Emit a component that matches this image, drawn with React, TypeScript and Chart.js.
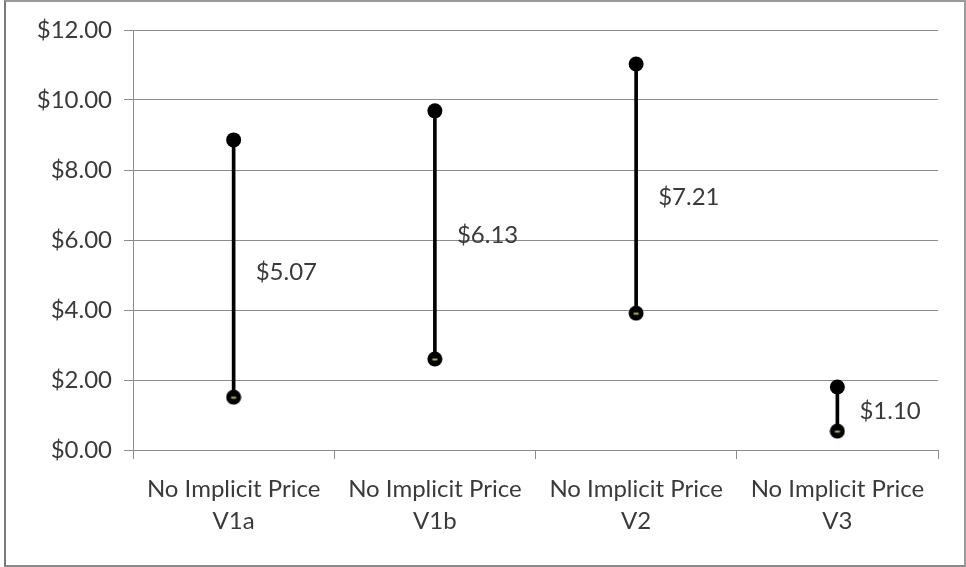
import React, { useEffect, useRef } from 'react';
import { Chart, registerables } from 'chart.js';

Chart.register(...registerables);

// Price ranges per variant: high, low and the labelled central value
const categories: string[][] = [
  ['No Implicit Price', 'V1a'],
  ['No Implicit Price', 'V1b'],
  ['No Implicit Price', 'V2'],
  ['No Implicit Price', 'V3'],
];
const highValues = [8.86, 9.69, 11.03, 1.8];
const lowValues = [1.51, 2.6, 3.91, 0.54];
const midValues = [5.07, 6.13, 7.21, 1.1];

const yMin = 0;
const yMax = 12;
const yStep = 2;

const FONT = 'Lato';
const FONT_SIZE = 24;
const TEXT = '#3a3a3a';
const GRID = '#8c8c8c';

const money = (v: number) => '$' + v.toFixed(2);

// Low-point marker: black dot with a small green dash in the middle
function makeLowMarker(): HTMLCanvasElement {
  const c = document.createElement('canvas');
  c.width = 16;
  c.height = 16;
  const ctx = c.getContext('2d')!;
  ctx.fillStyle = '#000';
  ctx.beginPath();
  ctx.arc(8, 8, 7.5, 0, Math.PI * 2);
  ctx.fill();
  ctx.fillStyle = '#9bbb59';
  ctx.fillRect(5.5, 7.5, 5, 2);
  return c;
}

const midLabels = {
  id: 'midLabels',
  afterDatasetsDraw(chart: any) {
    const { ctx, scales } = chart;
    ctx.save();
    ctx.font = `${FONT_SIZE}px ${FONT}`;
    ctx.fillStyle = TEXT;
    ctx.textAlign = 'left';
    ctx.textBaseline = 'middle';
    midValues.forEach((v, i) => {
      const x = scales.x.getPixelForValue(i) + 22;
      const y = scales.y.getPixelForValue(v);
      ctx.fillText(money(v), x, y);
    });
    ctx.restore();
  },
};

export default function App() {
  const ref = useRef<HTMLCanvasElement>(null);

  useEffect(() => {
    let chart: Chart | null = null;
    let cancelled = false;
    const build = () => {
      if (cancelled || !ref.current) return;
      chart = new Chart(ref.current, {
        type: 'bar',
        data: {
          labels: categories,
          datasets: [
            {
              type: 'bar',
              data: lowValues.map((lo, i) => [lo, highValues[i]]) as any,
              backgroundColor: '#000',
              barThickness: 3,
              order: 3,
            },
            {
              type: 'line',
              data: highValues,
              showLine: false,
              pointRadius: 7.5,
              pointBackgroundColor: '#000',
              pointBorderWidth: 0,
              order: 1,
            },
            {
              type: 'line',
              data: lowValues,
              showLine: false,
              pointStyle: makeLowMarker() as any,
              pointRadius: 8,
              order: 1,
            },
            {
              type: 'line',
              data: midValues,
              showLine: false,
              pointRadius: 0,
              order: 2,
            },
          ] as any,
        },
        options: {
          animation: false,
          responsive: false,
          layout: { padding: { top: 30, right: 28, bottom: 0, left: 0 } },
          plugins: { legend: { display: false }, tooltip: { enabled: false } },
          scales: {
            x: {
              offset: true,
              grid: {
                offset: true,
                drawOnChartArea: false,
                drawTicks: true,
                tickLength: 9,
                color: GRID,
              },
              border: { color: GRID },
              ticks: {
                color: TEXT,
                font: { family: FONT, size: FONT_SIZE, lineHeight: 1.33 },
                padding: 14,
                maxRotation: 0,
                autoSkip: false,
              },
              afterFit: (s: any) => {
                s.height = 117;
              },
            },
            y: {
              min: yMin,
              max: yMax,
              grid: { color: GRID, tickLength: 9 },
              border: { color: GRID },
              ticks: {
                stepSize: yStep,
                color: TEXT,
                font: { family: FONT, size: FONT_SIZE },
                padding: 12,
                callback: (v: any) => money(Number(v)),
              },
              afterFit: (s: any) => {
                s.width = 133;
              },
            },
          },
        },
        plugins: [midLabels],
      });
    };
    if ((document as any).fonts && (document as any).fonts.load) {
      (document as any).fonts.load(`${FONT_SIZE}px ${FONT}`).then(build, build);
    } else {
      build();
    }
    return () => {
      cancelled = true;
      if (chart) chart.destroy();
    };
  }, []);

  return (
    <div style={{ position: 'fixed', left: 0, top: 0, width: 966, height: 567, background: '#fff' }}>
      <canvas ref={ref} width={966} height={567} style={{ position: 'absolute', left: 0, top: 0 }} />
      <div
        style={{
          position: 'absolute',
          left: 4,
          top: 0,
          width: 962,
          height: 567,
          boxSizing: 'border-box',
          borderTop: '2px solid #9a9a9a',
          borderRight: '2px solid #9a9a9a',
          borderBottom: '2px solid #8a8a8a',
          borderLeft: '2px solid #7a7a7a',
          pointerEvents: 'none',
        }}
      />
    </div>
  );
}
